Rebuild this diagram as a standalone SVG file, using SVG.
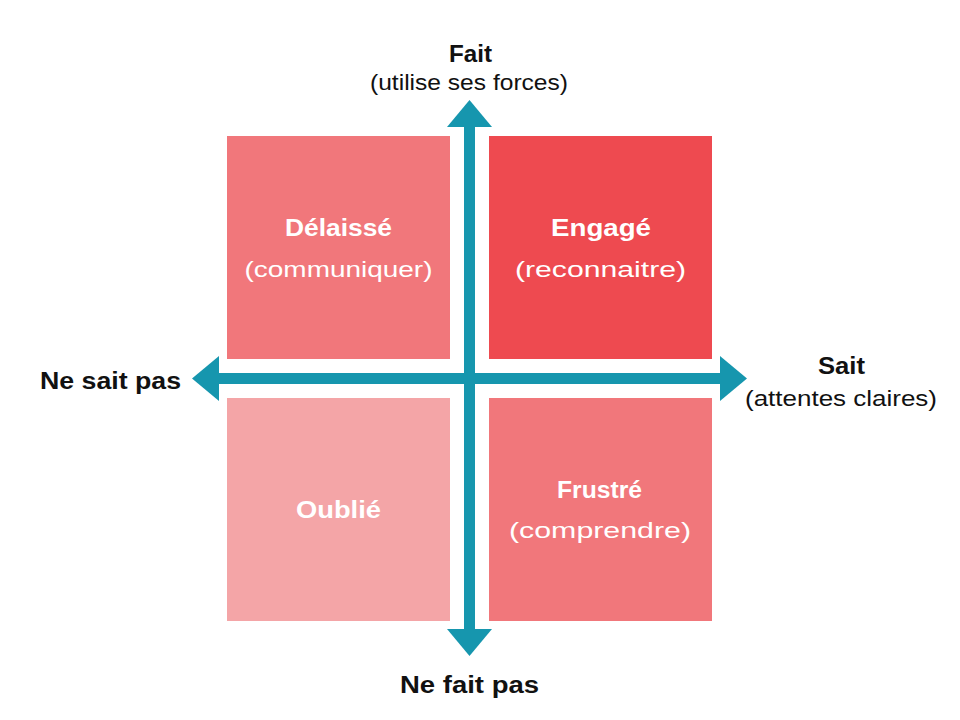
<svg xmlns="http://www.w3.org/2000/svg" width="960" height="720" viewBox="0 0 960 720">
<style>
.t{font-family:"Liberation Sans",Arial,sans-serif;text-anchor:middle}
.b{font-weight:bold;font-size:23px}
.r{font-size:22px}
.k{fill:#111}
.w{fill:#fff}
.ax{fill:#1696AE}
</style>
<rect width="960" height="720" fill="#fff"/>
<g id="delaisse">
<rect x="227" y="136" width="223" height="223" fill="#F1777B"/>
<text class="t b w" x="338.5" y="236" textLength="107" lengthAdjust="spacingAndGlyphs">Délaissé</text>
<text class="t r w" x="338.5" y="277" textLength="188" lengthAdjust="spacingAndGlyphs">(communiquer)</text>
</g>
<g id="engage">
<rect x="489" y="136" width="223" height="223" fill="#EE4A50"/>
<text class="t b w" x="601" y="236" textLength="100" lengthAdjust="spacingAndGlyphs">Engagé</text>
<text class="t r w" x="600.5" y="277" textLength="171" lengthAdjust="spacingAndGlyphs">(reconnaitre)</text>
</g>
<g id="oublie">
<rect x="227" y="398" width="223" height="223" fill="#F4A5A7"/>
<text class="t b w" x="338.5" y="518" textLength="85" lengthAdjust="spacingAndGlyphs">Oublié</text>
</g>
<g id="frustre">
<rect x="489" y="398" width="223" height="223" fill="#F1777B"/>
<text class="t b w" x="599.5" y="498" textLength="85" lengthAdjust="spacingAndGlyphs">Frustré</text>
<text class="t r w" x="600" y="538" textLength="182" lengthAdjust="spacingAndGlyphs">(comprendre)</text>
</g>
<g id="connectors">
<rect class="ax" x="464" y="126" width="11" height="504"/>
<rect class="ax" x="218" y="373" width="504" height="11"/>
<polygon class="ax" points="469.5,100 492,127 447,127"/>
<polygon class="ax" points="469.5,656 492,629 447,629"/>
<polygon class="ax" points="192,378.5 219,356 219,401"/>
<polygon class="ax" points="747,378.5 720,356 720,401"/>
</g>
<g id="labels">
<text class="t b k" x="470.5" y="62" textLength="43" lengthAdjust="spacingAndGlyphs">Fait</text>
<text class="t r k" x="469" y="90" textLength="198" lengthAdjust="spacingAndGlyphs">(utilise ses forces)</text>
<text class="t b k" x="110.5" y="389" textLength="141" lengthAdjust="spacingAndGlyphs">Ne sait pas</text>
<text class="t b k" x="841.5" y="374" textLength="47" lengthAdjust="spacingAndGlyphs">Sait</text>
<text class="t r k" x="841" y="406" textLength="192" lengthAdjust="spacingAndGlyphs">(attentes claires)</text>
<text class="t b k" x="469.5" y="693" textLength="139" lengthAdjust="spacingAndGlyphs">Ne fait pas</text>
</g>
</svg>
